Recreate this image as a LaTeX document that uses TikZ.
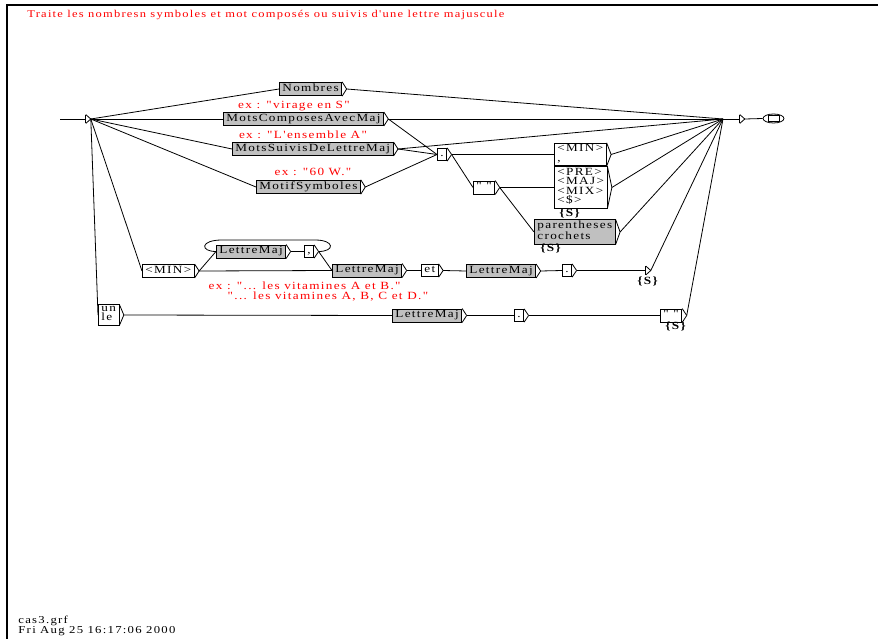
\documentclass[tikz,border=0pt]{standalone}
\usepackage{fontspec}
\setmainfont{Liberation Serif}
\newfontfamily\grffont[FakeStretch=1.2,LetterSpace=12]{Liberation Serif}
\usepackage{tikz}
\usetikzlibrary{shapes.geometric}
\definecolor{boxgray}{RGB}{192,192,192}

\begin{document}
\begin{tikzpicture}[x=1pt, y=-1pt, line width=0.8pt,
			every node/.style={font=\grffont\fontsize{11}{9.5}\selectfont},
			box/.style={draw, rectangle, fill=white, anchor=west, align=left, inner xsep=3pt, inner ysep=1.5pt,
				execute at begin node=\strut,
				append after command={([xshift=4.5pt]\tikzlastnode.east) edge (\tikzlastnode.north east)
					edge (\tikzlastnode.south east)
					([xshift=4.5pt]\tikzlastnode.east) coordinate (\tikzlastnode-o)}},
			sub/.style={box, fill=boxgray},
			etri/.style={inner sep=0pt, minimum width=0pt, minimum height=8pt, anchor=west,
				append after command={([xshift=5pt]\tikzlastnode.east) edge (\tikzlastnode.north east)
					edge (\tikzlastnode.south east)
					(\tikzlastnode.north east) edge (\tikzlastnode.south east)
					([xshift=5pt]\tikzlastnode.east) coordinate (\tikzlastnode-o)}},
			cmt/.style={red},
			outs/.style={font=\grffont\fontsize{11}{9.5}\selectfont\bfseries, anchor=north west, inner sep=0pt}
		]
		\useasboundingbox (0,0) rectangle (878,639);
		\draw[line width=1.4pt] (7,639) -- (7,5) -- (878,5);

		\node[cmt, anchor=west, inner sep=0pt, font=\grffont\fontsize{10.4}{9}\selectfont] (titre) at (27,15) {Traite les nombresn symboles et mot composés ou suivis d'une lettre majuscule};
		\node[anchor=west, align=left, inner sep=0pt, font=\grffont\fontsize{10.6}{8.5}\selectfont] (fichier) at (18,626) {cas3.grf\\Fri Aug 25 16:17:06 2000};

		% initial and final states
		\coordinate (in0) at (60,119);
		\node[etri] (init) at (85,119) {};
		\coordinate (jct) at (723,119);
		\node[etri] (fin0) at (739,119) {};
		\node[draw, ellipse, minimum width=21pt, minimum height=9pt, inner sep=0pt] (fin) at (773.5,118.5) {};
		\node[draw, minimum width=11pt, minimum height=6pt, inner sep=0pt] (finbox) at (fin.center) {};

		% upper part
		\node[sub] (nomb) at (279,89) {Nombres};
		\node[sub] (mcomp) at (223,119) {MotsComposesAvecMaj};
		\node[sub] (msuiv) at (232,149) {MotsSuivisDeLettreMaj};
		\node[sub] (motif) at (256,187) {MotifSymboles};
		\node[box] (pt1) at (437,154.5) {.};
		\node[box] (minv) at (554,154.5) {<MIN>\\,};
		\node[box] (guil1) at (473,187.5) {" "};
		\node[box] (pre) at (554,187.5) {<PRE>\\<MAJ>\\<MIX>\\<\$>};
		\node[sub] (paren) at (534,232) {parentheses\\crochets};

		\node[cmt] (c1) at (294,106) {ex : "virage en S"};
		\node[cmt] (c2) at (303,135) {ex : "L'ensemble A"};
		\node[cmt] (c3) at (313,172) {ex : "60 W."};
		\node[outs] (pre-s) at (559,208.5) {\{S\}};
		\node[outs] (paren-s) at (540,243.5) {\{S\}};

		% lower part
		\node[box] (min2) at (142,271) {<MIN>};
		\node[sub] (lmloop) at (216,251.5) {LettreMaj};
		\node[box] (virg) at (304,251.5) {,};
		\node[sub] (lm2) at (332,270.5) {LettreMaj};
		\node[box] (et) at (421,270.5) {et};
		\node[sub] (lm3) at (466,271) {LettreMaj};
		\node[box] (pt2) at (562,270.5) {.};
		\node[etri] (s1) at (645,270.5) {};
		\node[outs] (s1-s) at (637,276.5) {\{S\}};
		\node[cmt, anchor=west, align=left] (c4) at (205,291.5) {ex : "... les vitamines A et B."\\\hspace*{19pt}"... les vitamines A, B, C et D."};

		\node[box] (unle) at (98,315) {un\\le};
		\node[sub] (lm4) at (392,315.5) {LettreMaj};
		\node[box] (pt3) at (514,315.5) {.};
		\node[box] (guil2) at (660,315.5) {" "};
		\node[outs] (guil2-s) at (665,321.5) {\{S\}};

		\draw (in0) -- (init);
		\draw (init-o) -- (nomb.west);
		\draw (init-o) -- (mcomp.west);
		\draw (init-o) -- (msuiv.west);
		\draw (init-o) -- (motif.west);
		\draw (init-o) -- (min2.west);
		\draw (init-o) -- (unle.west);

		\draw (nomb-o) -- (jct);
		\draw (mcomp-o) -- (jct);
		\draw (mcomp-o) -- (pt1.west);
		\draw (msuiv-o) -- (jct);
		\draw (msuiv-o) -- (pt1.west);
		\draw (motif-o) -- (pt1.west);
		\draw (pt1-o) -- (minv.west);
		\draw (pt1-o) -- (guil1.west);
		\draw (guil1-o) -- (pre.west);
		\draw (guil1-o) -- (paren.west);
		\draw (minv-o) -- (jct);
		\draw (pre-o) -- (jct);
		\draw (paren-o) -- (jct);

		\draw (min2-o) -- (lmloop.west);
		\draw (min2-o) -- (lm2.west);
		\draw (lmloop-o) -- (virg.west);
		\draw (virg-o) -- (lm2.west);
		\draw (virg-o) .. controls (335,251.5) and (335,240) .. (315,240) -- (222,240) .. controls (200,240) and (200,251.5) .. (lmloop.west);
		\draw (lm2-o) -- (et.west);
		\draw (et-o) -- (lm3.west);
		\draw (lm3-o) -- (pt2.west);
		\draw (pt2-o) -- (s1.west);
		\draw (s1-o) -- (jct);

		\draw (unle-o) -- (lm4.west);
		\draw (lm4-o) -- (pt3.west);
		\draw (pt3-o) -- (guil2.west);
		\draw (guil2-o) -- (jct);

		\draw (jct) -- (fin0.west);
		\draw (fin0-o) -- (fin.west);
	\end{tikzpicture}
\end{document}
